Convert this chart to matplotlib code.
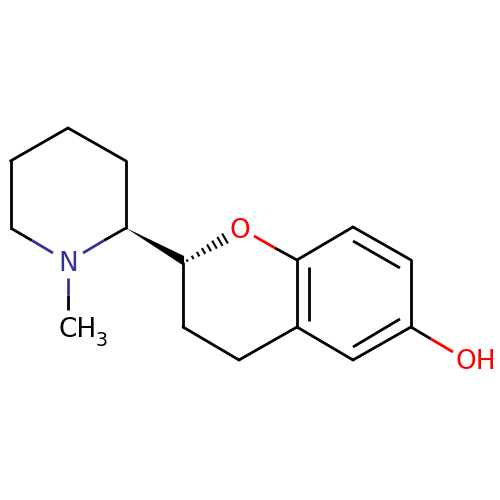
import numpy as np
import matplotlib
matplotlib.use("Agg")
import matplotlib.pyplot as plt

# atom positions (pixels)
atom_names = ["C1", "C2", "C3", "C4", "C5", "N", "Me",
              "C9", "C10", "C11", "C12", "C13", "C14", "C15", "C16", "C17"]
atom_x = [126, 126, 68, 10.5, 10.5, 68, 68,
          183, 183, 239, 297, 297, 353, 411, 411, 353]
atom_y = [228, 161, 128, 161, 228, 261, 310,
          263, 327, 360, 327, 260, 227, 260, 327, 360]
pos = {n: (x, y) for n, x, y in zip(atom_names, atom_x, atom_y)}

# plain black bonds
black_bonds = [("C1", "C2"), ("C2", "C3"), ("C3", "C4"), ("C4", "C5"),
               ("C9", "C10"), ("C10", "C11"), ("C11", "C12"), ("C12", "C13"),
               ("C13", "C14"), ("C14", "C15"), ("C15", "C16"),
               ("C16", "C17"), ("C17", "C12")]

# two-coloured bonds: start, middle, end
blue = "#33339f"
red = "#ff0000"
two_tone = [
    ((10.5, 228), (32, 240.5), (53, 253), blue),
    ((126, 228), (104, 240.5), (83, 253), blue),
    ((68, 310), (68, 295), (68, 278), blue),
    ((297, 260), (275, 248), (254, 236), red),
    ((411, 327), (431, 339), (453, 352), red),
]

# inner lines of the aromatic ring
inner_lines = [((308.5, 267), (308.5, 321)),
               ((353, 241), (400, 268)),
               ((400, 319), (353, 347))]

# text, x, baseline y, colour, size
labels = [("N", 68, 271, blue, 19, "center"),
          ("O", 240, 238, red, 19, "center"),
          ("OH", 476, 369, red, 19, "center"),
          ("CH", 58, 337, "black", 19, "left"),
          ("3", 95.6, 346, "black", 13.7, "left")]

wedge_x = [126, 184, 184]
wedge_y = [228, 256, 266]

hash_t = [0.1, 0.23, 0.36, 0.49, 0.62, 0.75, 0.88, 1.0]
hash_half = [1.2, 1.9, 2.6, 3.3, 4.0, 4.6, 5.2, 5.8]

fig = plt.figure(figsize=(5, 5), dpi=100)
ax = fig.add_axes([0, 0, 1, 1])
ax.set_xlim(0, 500)
ax.set_ylim(500, 0)
ax.axis("off")

lw = 2.0
for a, b in black_bonds:
    ax.plot([pos[a][0], pos[b][0]], [pos[a][1], pos[b][1]], color="black", lw=lw, solid_capstyle="round")
for p0, p1, p2, col in two_tone:
    ax.plot([p0[0], p1[0]], [p0[1], p1[1]], color="black", lw=lw, solid_capstyle="butt")
    ax.plot([p1[0], p2[0]], [p1[1], p2[1]], color=col, lw=lw, solid_capstyle="butt")
for p0, p1 in inner_lines:
    ax.plot([p0[0], p1[0]], [p0[1], p1[1]], color="black", lw=lw, solid_capstyle="butt")

# solid wedge
ax.fill(wedge_x, wedge_y, color="black", lw=0)

# hashed wedge from C9 towards O
start = np.array(pos["C9"], dtype=float)
end = np.array([225.0, 238.5])
d = end - start
n = np.array([-d[1], d[0]]) / np.hypot(*d)
for t, half in zip(hash_t, hash_half):
    c = start + d * t
    ax.plot([c[0] - n[0] * half, c[0] + n[0] * half],
            [c[1] - n[1] * half, c[1] + n[1] * half],
            color="black", lw=1.5, solid_capstyle="butt")

for s, x, y, col, size, ha in labels:
    ax.text(x, y, s, color=col, fontsize=size, ha=ha, va="baseline", family="DejaVu Sans")

fig.savefig("out.png", dpi=100, facecolor="white")
